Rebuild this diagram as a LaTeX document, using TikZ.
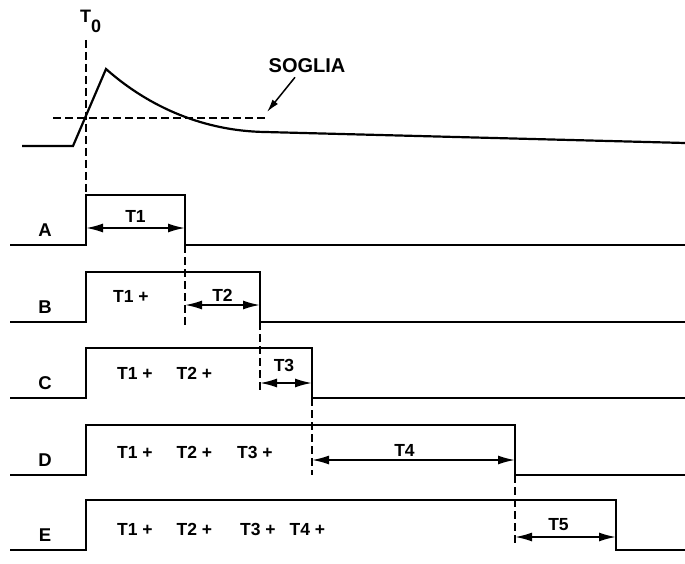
\documentclass[tikz,border=0pt]{standalone}
\usepackage{fontspec}
\setmainfont{Liberation Sans}
\usetikzlibrary{arrows.meta}
\tikzset{
  wave/.style={line width=2.2pt, line join=miter},
  guide/.style={line width=1.5pt, dash pattern=on 8pt off 4pt},
  span/.style={{Latex[length=17pt,width=9pt]}-{Latex[length=17pt,width=9pt]}, line width=1.8pt},
  lbl/.style={font=\bfseries\fontsize{17.5}{20}\selectfont, inner sep=0pt}
}
\begin{document}
\begin{tikzpicture}[x=1pt,y=-1pt]
\useasboundingbox (0,0) rectangle (685,564);
% segnale di ingresso e soglia
\draw[wave] (22,146) -- (73,146) -- (106,69) .. controls (150,108) and (205,131) .. (265,132) -- (685,143);
\draw[guide] (53,118) -- (265,118);
\node[lbl, font=\bfseries\fontsize{20}{22}\selectfont] (soglia) at (307,66) {SOGLIA};
\coordinate (sogliatip) at (267,112);
\draw[-{Latex[length=13pt,width=7pt]}, line width=1.5pt] ([xshift=-12pt,yshift=-4pt]soglia.south) -- (sogliatip);
\node[lbl, font=\bfseries\fontsize{18}{20}\selectfont, anchor=base west] (t0) at (80,23) {T\raisebox{-10pt}{0}};
\draw[guide] (86,40) -- (86,196);
% uscite A..E
\foreach \name/\y/\xf in {A/245/185,B/322/260,C/398/312,D/475/515,E/550/616}{
  \draw[wave] (10,\y) -- (86,\y) -- (86,\y-50) -- (\xf,\y-50) -- (\xf,\y) -- (685,\y);
  \node[lbl, font=\bfseries\fontsize{18.5}{20}\selectfont] (lab\name) at (45,\y-15) {\name};
}
\foreach \x/\ya/\yb in {185/245/327,260/322/393,312/398/475,515/475/545}
  \draw[guide] (\x,\ya) -- (\x,\yb);
% intervalli
\foreach \xa/\xb/\y/\t/\g/\dx in {86/185/228/T1/5/0,185/260/305/T2/3/0,260/312/383/T3/10/-2,312/515/460/T4/3/-9,515/616/537/T5/5/-7}
  \draw[span] (\xa,\y) -- node[lbl, above=\g pt, xshift=\dx pt] (span\t) {\t} (\xb,\y);
% somme
\node[lbl, anchor=west] (sumB) at (113,296) {T1 +};
\node[lbl, anchor=west] (sumC) at (117,373) {T1 +\hspace{24pt}T2 +};
\node[lbl, anchor=west] (sumD) at (117,452) {T1 +\hspace{24pt}T2 +\hspace{25pt}T3 +};
\node[lbl, anchor=west] (sumE) at (117,529) {T1 +\hspace{24pt}T2 +\hspace{28pt}T3 +\hspace{14pt}T4 +};
\end{tikzpicture}
\end{document}
